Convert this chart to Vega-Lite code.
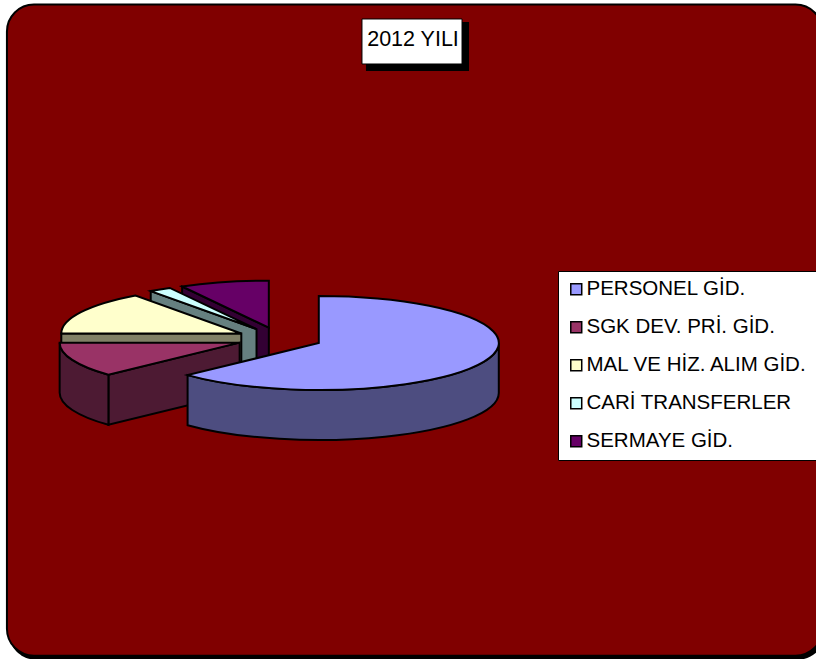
{
"$schema":"https://vega.github.io/schema/vega-lite/v6.json",
"width":816,"height":659,"padding":0,"autosize":{"type":"none"},
"background":"white",
"config":{"view":{"stroke":null},"font":"Liberation Sans"},
"title":{"text":"2012 YILI","anchor":"middle","frame":"group","orient":"top","offset":-67,"dx":5,"baseline":"alphabetic","font":"Liberation Sans","fontSize":21.5,"fontWeight":"normal","color":"black","zindex":1},
"layer":[
{"data":{"values":[{"part":"shadow"}]},"mark":{"type":"rect","fill":"black","cornerRadius":27},
 "encoding":{"x":{"datum":1.1,"type":"quantitative","scale":{"domain":[0,100],"nice":false,"zero":false},"axis":null},"x2":{"datum":101.1},"y":{"datum":1,"type":"quantitative","scale":{"domain":[100,0],"nice":false,"zero":false},"axis":null},"y2":{"datum":100.1}}},
{"data":{"values":[{"part":"panel"}]},"mark":{"type":"rect","fill":"#800000","stroke":"black","strokeWidth":2,"cornerRadius":27},
 "encoding":{"x":{"datum":0.85,"type":"quantitative"},"x2":{"datum":100.8},"y":{"datum":0.7,"type":"quantitative"},"y2":{"datum":99.5}}},
{"data":{"values":[{"part":"title shadow"}]},"mark":{"type":"rect","fill":"black"},
 "encoding":{"x":{"datum":44.85,"type":"quantitative"},"x2":{"datum":57.48},"y":{"datum":3.34,"type":"quantitative"},"y2":{"datum":10.77}}},
{"data":{"values":[{"part":"title box"}]},"mark":{"type":"rect","fill":"white","stroke":"black","strokeWidth":1},
 "encoding":{"x":{"datum":44.36,"type":"quantitative"},"x2":{"datum":56.62},"y":{"datum":2.88,"type":"quantitative"},"y2":{"datum":9.71}}},
{"data":{"values":[
 {"name":"PERSONEL GİD.","value":63},
 {"name":"SGK DEV. PRİ. GİD.","value":12},
 {"name":"MAL VE HİZ. ALIM GİD.","value":15},
 {"name":"CARİ TRANSFERLER","value":2},
 {"name":"SERMAYE GİD.","value":8}]},
 "transform":[
 {"window":[{"op":"sum","field":"value","as":"cum"}]},
 {"calculate":"datum.cum*2*PI/100","as":"a2"},
 {"calculate":"(datum.cum-datum.value)*2*PI/100","as":"a1"},
 {"calculate":"(datum.a1+datum.a2)/2","as":"mid"},
 {"calculate":"0.238*sin(datum.mid)","as":"ox"},
 {"calculate":"-0.238*0.261*cos(datum.mid)","as":"oy"},
 {"calculate":"round((datum.ox+sin(datum.a1))*1e4)/1e4","as":"x1"},
 {"calculate":"round((datum.oy-0.261*cos(datum.a1))*1e4)/1e4","as":"y1"},
 {"calculate":"round((datum.ox+sin(datum.a2))*1e4)/1e4","as":"x2"},
 {"calculate":"round((datum.oy-0.261*cos(datum.a2))*1e4)/1e4","as":"y2"},
 {"calculate":"max(datum.a1,PI/2)","as":"b1"},
 {"calculate":"min(datum.a2,3*PI/2)","as":"b2"},
 {"calculate":"round((datum.ox+sin(datum.b1))*1e4)/1e4","as":"wx1"},
 {"calculate":"round((datum.oy-0.261*cos(datum.b1))*1e4)/1e4","as":"wy1"},
 {"calculate":"round((datum.ox+sin(datum.b2))*1e4)/1e4","as":"wx2"},
 {"calculate":"round((datum.oy-0.261*cos(datum.b2))*1e4)/1e4","as":"wy2"},
 {"calculate":"'M'+datum.ox+','+datum.oy+'L'+datum.x1+','+datum.y1+'A1,0.261 0 '+(datum.a2-datum.a1>PI?1:0)+' 1 '+datum.x2+','+datum.y2+'Z'","as":"top"},
 {"calculate":"datum.b2-datum.b1>0.001?'M'+datum.wx1+','+datum.wy1+'A1,0.261 0 0 1 '+datum.wx2+','+datum.wy2+'L'+datum.wx2+','+(datum.wy2+0.278)+'A1,0.261 0 0 0 '+datum.wx1+','+(datum.wy1+0.278)+'Z':''","as":"wall"},
 {"calculate":"sin(datum.a1)<-0.001?'M'+datum.ox+','+datum.oy+'L'+datum.x1+','+datum.y1+'L'+datum.x1+','+(datum.y1+0.278)+'L'+datum.ox+','+(datum.oy+0.278)+'Z':''","as":"cut"},
 {"fold":["cut","wall","top"],"as":["part","path"]},
 {"filter":"datum.path!=''"},
 {"calculate":"datum.part=='top'?datum.name:datum.name+' side'","as":"key"},
 {"calculate":"-datum.cum*10+(datum.part=='top'?2:datum.part=='wall'?1:0)","as":"z"}
 ],
 "mark":{"type":"point","filled":true,"stroke":"black","strokeWidth":2,"opacity":1,"size":129600},
 "encoding":{
  "x":{"datum":34.25,"type":"quantitative"},
  "y":{"datum":51.37,"type":"quantitative"},
  "shape":{"field":"path","type":"nominal","scale":null,"legend":null},
  "order":{"field":"z","type":"quantitative"},
  "color":{"field":"key","type":"nominal",
   "scale":{"domain":["PERSONEL GİD.","SGK DEV. PRİ. GİD.","MAL VE HİZ. ALIM GİD.","CARİ TRANSFERLER","SERMAYE GİD.","PERSONEL GİD. side","SGK DEV. PRİ. GİD. side","MAL VE HİZ. ALIM GİD. side","CARİ TRANSFERLER side","SERMAYE GİD. side"],
    "range":["#9999FF","#993366","#FFFFCC","#CCFFFF","#660066","#4D4D80","#4D1A33","#808066","#668080","#330033"]},
   "legend":{"values":["PERSONEL GİD.","SGK DEV. PRİ. GİD.","MAL VE HİZ. ALIM GİD.","CARİ TRANSFERLER","SERMAYE GİD."],
    "title":null,"orient":"none","legendX":558,"legendY":271,"fillColor":"white","strokeColor":"black","padding":8,"rowPadding":17,"columnPadding":3,"labelOffset":0,"zindex":1,
    "symbolType":"square","symbolSize":120,"symbolStrokeColor":"black","symbolStrokeWidth":1.5,"symbolOpacity":1,
    "labelFont":"Liberation Sans","labelFontSize":20.5,"labelColor":"black","labelLimit":300}}
 }}
]}
